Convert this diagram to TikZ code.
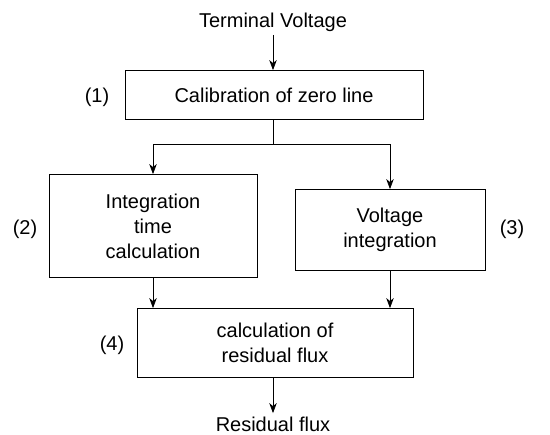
\documentclass[tikz,border=0pt]{standalone}
\usepackage{fontspec}
\setmainfont{Liberation Sans}
\usetikzlibrary{arrows.meta, positioning}

\begin{document}
\begin{tikzpicture}[x=1pt, y=-1pt,
    block/.style={draw, line width=0.8pt, align=center, inner sep=0pt},
    label/.style={font=\fontsize{20}{25}\selectfont},
    flow/.style={-{Stealth[length=10pt, width=7.5pt, inset=3pt]}, line width=0.8pt}]
    \useasboundingbox (0,0) rectangle (550,435);

    % Inputs and outputs
    \node[label] (input) at (273, 22) {Terminal Voltage};
    \node[label] (output) at (273, 424) {Residual flux};

    % Process blocks
    \node[block, label, minimum width=298pt, minimum height=49pt] (zero) at (274, 95) {Calibration of zero line};
    \node[block, label, minimum width=208pt, minimum height=103pt] (time) at (153, 226) {Integration\\time\\calculation};
    \node[block, label, minimum width=190pt, minimum height=81pt] (volt) at (390, 230) {Voltage\\integration};
    \node[block, label, minimum width=276pt, minimum height=69pt] (flux) at (275, 343) {calculation of\\residual flux};

    % Step numbers
    \node[label] (n1) at (97, 97) {(1)};
    \node[label] (n2) at (25, 229) {(2)};
    \node[label] (n3) at (512, 229) {(3)};
    \node[label] (n4) at (112, 345) {(4)};

    % Connectors
    \draw[flow] (input) -- (input |- zero.north);
    \draw[line width=0.8pt] (input |- zero.south) -- (273,144) coordinate (split);
    \draw[flow] (split) -| (time.north);
    \draw[flow] (split) -| (volt.north);
    \draw[flow] (time.south) -- (time.south |- flux.north);
    \draw[flow] (volt.south) -- (volt.south |- flux.north);
    \draw[flow] (input |- flux.south) -- (output);
\end{tikzpicture}
\end{document}
